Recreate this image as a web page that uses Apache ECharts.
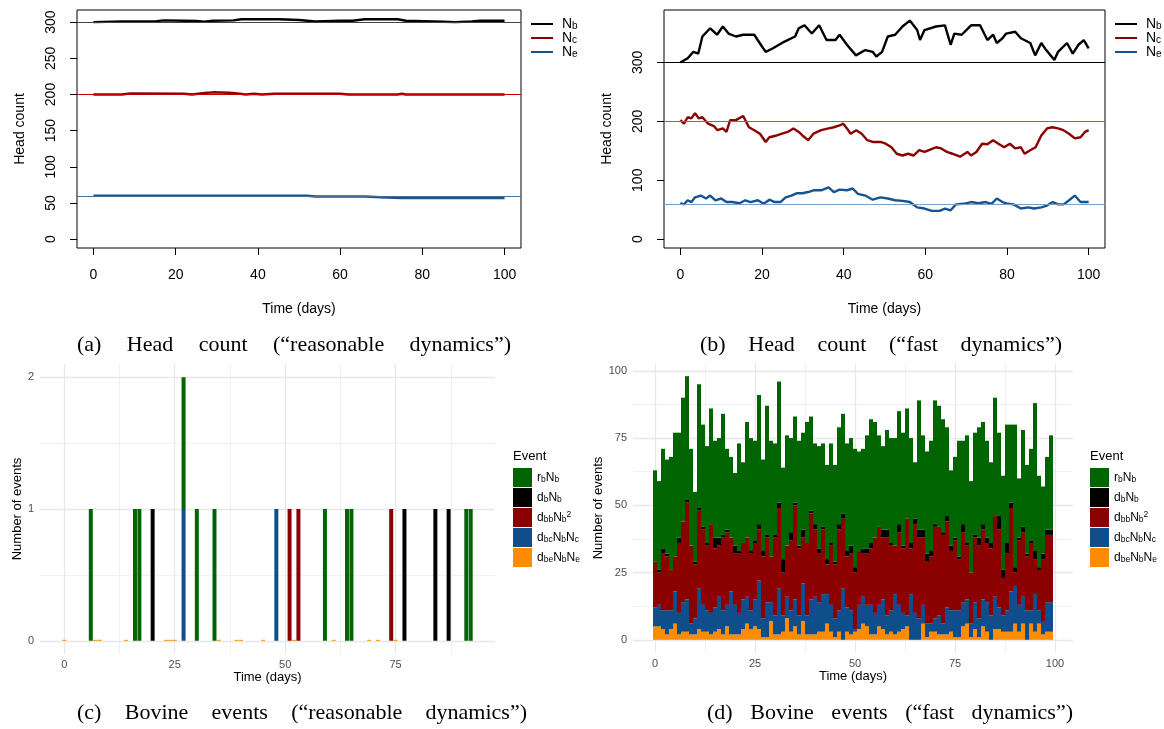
<!DOCTYPE html>
<html><head><meta charset="utf-8">
<script src="https://cdn.jsdelivr.net/npm/echarts@6/dist/echarts.min.js"></script>
<style>html,body{margin:0;padding:0;background:#fff}#chart{width:1164px;height:729px}</style>
</head><body><div id="chart"></div>
<script>
// ---------------- DATA ----------------
// (a) head count, "reasonable dynamics"
const aNbT = [0,7,15,17,22,25,27,29,34,36,45,50,54,60,63,66,74,76,85,88,92,94,100];
const aNbV = [300,301,301,302.5,302,301.5,300.5,302,302.5,304,304,303,301,302,302,304,304,302,300.5,300,301,302,302];
const aNcT = [0,7,9,22,24,27,29,33,35,37,39,41,44,60,62,74,75,76,100];
const aNcV = [200,200,201.5,201,200,202,203,202.5,201.5,200,201,200,201,201,200,200,201,200,200];
const aNeT = [0,52,54,66,70,75,100];
const aNeV = [60,60,59,59,58,57,57];
// (b) head count, "fast dynamics"
const bNbT = [0,1.8,3.2,4.4,5.4,7.3,9,10.4,11.8,13.6,15.4,18.1,20,20.9,22.7,25.4,28.1,29,30.4,32.2,34,35.8,38,39,40.8,43,45.3,47.1,48,49.4,50.8,52.6,54.4,56.2,58,58.7,59.8,62.6,64.8,66.2,67.1,68.9,71.2,73.4,75.2,76.6,77.5,78.9,79.8,82,83.4,85.7,86.9,88.4,89.6,91.6,92.5,94.7,96.1,97.5,98.8,100];
const bNbV = [300,307,318,315,344,358,347,361,349,344,347,347,327,318,324,335,344,358,363,349,363,338,338,347,330,312,321,318,310,318,344,347,361,371,355,338,355,361,363,330,349,347,363,363,338,347,333,341,349,352,341,333,312,333,321,304,318,333,315,330,338,324];
const bNcT = [0,0.9,1.8,2.7,3.6,4.5,5.4,6.8,8.2,9.1,10.4,11.3,12.2,13.6,15.4,16.8,18.1,19.5,20.9,21.8,23.6,24.9,26.3,27.7,29,29.9,31.3,32.6,34.5,36.3,37.6,39,39.9,40.8,41.7,43.1,44.4,45.8,47.1,49,50.3,51.7,53,54.4,55.8,57.1,58.5,59.8,61.2,62.6,63.9,65.3,66.6,68.5,70.3,71.2,72.5,73.9,75.2,76.6,77.9,79.3,80.7,82,83.4,84.3,85.7,87,88.4,89.8,91.1,92.5,93.8,95.2,96.6,98,99.1,100];
const bNcV = [202,196,207,205,214,205,207,196,192,185,188,182,202,202,209,190,185,179,165,173,176,179,182,188,182,176,168,179,185,188,190,193,196,188,179,185,179,168,165,165,162,156,145,142,145,142,151,148,152,156,154,148,145,140,148,142,148,162,161,168,162,156,162,154,156,145,151,156,176,188,190,188,185,179,171,173,182,185];
const bNeT = [0,0.9,1.8,2.7,3.6,5,6.3,7.3,8.6,10,11.3,12.7,14.5,15.9,17.2,19,20.4,21.8,23.1,24.5,25.8,27.2,28.6,29.9,31.3,32.6,34.5,36.3,37.6,39,40.8,42.2,43.5,45.3,47.1,49,50.8,52.6,54.4,56.2,58,59.8,61.6,63.5,64.8,66.2,67.5,69.4,71.2,73,74.8,76.2,77.5,78.9,80.2,81.6,83.4,85.2,86.6,88.4,89.8,91.2,92.5,93.9,95.2,96.6,98,100];
const bNeV = [61,59,66,63,71,74,69,74,66,69,63,63,61,66,63,66,60,67,63,63,71,74,78,78,80,83,83,88,80,84,83,86,77,74,67,71,69,66,65,63,54,52,48,48,52,49,59,60,63,61,63,60,69,63,60,59,52,54,52,54,57,63,59,59,66,74,63,63];
const refLines = [300, 200, 60];
// (c) bovine events, "reasonable dynamics": days with one event of each kind
const cRbDays = [6,16,17,27,30,34,59,64,65,91,92];
const cDbDays = [20,77,84,87];
const cDbbDays = [51,53,74];
const cDbcDays = [27,48];
const cDbeZeroDays = [0,7,8,14,23,24,25,35,39,40,45,52,61,69,71,75];
// (d) bovine events, "fast dynamics": counts per day 0..99
const dDbe = [5,5,4,2,4,6,2,3,3,2,2,4,3,3,2,3,4,2,5,2,2,2,4,6,4,5,4,1,1,7,2,2,3,8,3,5,2,7,2,2,2,3,3,6,3,1,3,0,3,2,3,4,6,5,2,2,5,4,2,3,2,3,4,5,0,0,0,6,1,3,3,2,2,2,3,1,1,5,6,1,4,1,5,3,0,4,4,3,3,3,6,3,6,0,6,3,6,2,3,3];
const dDbc = [7,8,7,9,7,12,8,11,12,4,6,15,10,8,8,9,12,9,8,16,11,8,11,10,7,10,18,7,13,7,7,17,6,8,8,10,7,14,7,13,14,11,14,11,10,7,8,19,9,9,1,9,10,8,11,8,8,11,7,8,15,10,6,4,17,10,8,7,5,3,5,7,4,10,8,10,10,9,9,5,10,7,10,11,9,12,8,6,8,15,14,10,10,11,5,14,5,5,11,11];
const dDbb = [17,12,21,20,15,13,26,30,36,29,20,29,28,24,33,22,19,27,27,20,19,22,21,22,21,21,19,23,24,17,29,30,16,19,26,35,25,17,27,32,25,18,24,11,22,20,30,26,19,21,21,20,16,19,21,28,29,23,29,24,18,27,24,36,17,33,30,25,23,25,34,33,33,32,22,26,19,26,20,19,24,27,26,22,25,30,29,14,21,31,5,24,24,20,25,13,15,23,25,25];
const dDb = [0,1,2,1,0,0,2,0,1,0,1,1,1,1,0,4,3,1,1,0,3,1,0,0,1,1,2,2,1,0,1,2,5,0,3,1,1,3,0,1,2,2,1,2,1,1,2,2,2,3,2,0,2,2,2,0,0,3,3,1,0,3,1,0,2,2,3,3,3,2,1,0,1,2,2,1,1,3,1,0,1,3,2,2,2,0,5,3,4,2,2,1,2,1,1,3,1,2,2,2];
const dRb = [34,33,37,35,42,46,39,46,46,36,26,46,38,36,43,36,37,45,30,30,27,40,30,43,42,37,48,34,48,43,34,45,34,41,35,32,39,36,45,35,30,38,31,35,37,36,36,37,40,40,44,37,37,42,46,43,34,31,37,39,40,42,42,41,39,21,48,35,38,41,46,45,42,33,28,30,43,31,40,34,38,41,38,36,30,44,31,35,44,29,53,22,36,33,34,55,34,25,27,35];
// tick labels
const headTicksX = [0,20,40,60,80,100];
const headTicksYa = [0,50,100,150,200,250,300];
const headTicksYb = [0,100,200,300];
const evTicksXc = [0,25,50,75];
const evTicksYc = [0,1,2];
const evTicksXd = [0,25,50,75,100];
const evTicksYd = [0,25,50,75,100];
const minorXc = [12.5,37.5,62.5,87.5];
const minorYc = [0.5,1.5];
const minorXd = [12.5,37.5,62.5,87.5];
const minorYd = [12.5,37.5,62.5,87.5];

// ---------------- STYLE ----------------
const SANS = '"Liberation Sans", Arial, sans-serif';
const SERIF = '"Liberation Serif", "Times New Roman", serif';
const C_GREEN = '#006400', C_BLACK = '#000000', C_RED = '#8B0000', C_BLUE = '#104E8B', C_ORANGE = '#FF8C00';
const L_BLUE = '#17538f';

const chart = echarts.init(document.getElementById('chart'), null, {renderer: 'canvas'});

const pairs = (t, v) => t.map((x, i) => [x, v[i]]);

function rXAxis(gi) {
  return {type:'value', gridIndex:gi, min:-4, max:104, position:'bottom',
    axisLine:{show:false, onZero:false}, splitLine:{show:false},
    axisTick:{show:true, inside:false, length:7, customValues:headTicksX, lineStyle:{color:'#000', width:1}},
    axisLabel:{customValues:headTicksX, fontSize:14, color:'#000', fontFamily:SANS, margin:20},
    name:'Time (days)', nameLocation:'middle', nameGap:54,
    nameTextStyle:{fontSize:14, color:'#000', fontFamily:SANS}};
}
function rYAxis(gi, min, max, ticks) {
  return {type:'value', gridIndex:gi, min:min, max:max, position:'left',
    axisLine:{show:false, onZero:false}, splitLine:{show:false},
    axisTick:{show:true, inside:false, length:7, customValues:ticks, lineStyle:{color:'#000', width:1}},
    axisLabel:{customValues:ticks, rotate:90, fontSize:14, color:'#000', fontFamily:SANS, margin:19},
    name:'Head count', nameLocation:'middle', nameGap:50, nameRotate:90,
    nameTextStyle:{fontSize:14, color:'#000', fontFamily:SANS}};
}
function gXAxis(gi, min, max, ticks) {
  return {type:'value', gridIndex:gi, min:min, max:max, position:'bottom',
    axisLine:{show:false, onZero:false}, splitLine:{show:false}, axisTick:{show:false},
    axisLabel:{customValues:ticks, fontSize:11, color:'#4D4D4D', fontFamily:SANS, margin:5},
    name:'Time (days)', nameLocation:'middle', nameGap:17,
    nameTextStyle:{fontSize:13, color:'#000', fontFamily:SANS}};
}
function catAxis(gi, cats) {
  return {type:'category', gridIndex:gi, data:cats, show:false, boundaryGap:true,
    axisLine:{show:false, onZero:false}, axisTick:{show:false}, axisLabel:{show:false}, splitLine:{show:false}};
}
function gYAxis(gi, min, max, ticks, gap) {
  return {type:'value', gridIndex:gi, min:min, max:max, position:'left',
    axisLine:{show:false, onZero:false}, splitLine:{show:false}, axisTick:{show:false},
    axisLabel:{customValues:ticks, fontSize:11, color:'#4D4D4D', fontFamily:SANS, margin:6},
    name:'Number of events', nameLocation:'middle', nameGap:gap, nameRotate:90,
    nameTextStyle:{fontSize:13, color:'#000', fontFamily:SANS}};
}
function lineSeries(name, gi, t, v, color, ref, refColor) {
  return {name:name, type:'line', xAxisIndex:gi, yAxisIndex:gi, data:pairs(t, v),
    showSymbol:false, symbol:'none', color:color, lineStyle:{color:color, width:2.4},
    markLine:{silent:true, symbol:'none', label:{show:false},
      lineStyle:{color:refColor, width:1.1, type:'solid'}, data:[{yAxis:ref}]}};
}
function gridSeries(gi, xMaj, xMin, yMaj, yMin) {
  const maj = {color:'#E8E8E8', width:1.3, type:'solid'};
  const mnr = {color:'#F1F1F1', width:1, type:'solid'};
  const data = [];
  xMin.forEach(v => data.push({xAxis:v, lineStyle:mnr}));
  yMin.forEach(v => data.push({yAxis:v, lineStyle:mnr}));
  xMaj.forEach(v => data.push({xAxis:v, lineStyle:maj}));
  yMaj.forEach(v => data.push({yAxis:v, lineStyle:maj}));
  return {type:'line', xAxisIndex:gi, yAxisIndex:gi, data:[], z:1,
    markLine:{silent:true, symbol:'none', z:1, label:{show:false}, animation:false, data:data}};
}
// category bands for bars: one band per day, spanning the same range as the value axes
const catsC = Array.from({length:103}, (_, i) => i - 5);   // -5 .. 97
const catsD = Array.from({length:110}, (_, i) => i - 5);   // -5 .. 104
const countOn = list => catsC.map(d => (d >= 0 && d <= 92) ? list.filter(x => x === d).length : null);
const onDays = arr => catsD.map(d => (d >= 0 && d < arr.length) ? arr[d] : null);
function barSeries(name, xi, yi, data, color, width, extra) {
  return Object.assign({name:name, type:'bar', xAxisIndex:xi, yAxisIndex:yi, stack:'s'+yi,
    barWidth:width, data:data, color:color, itemStyle:{color:color, borderWidth:0}, z:6}, extra || {});
}

// legend label rich text
const richR = {
  p:{width:4, fontSize:14, lineHeight:14},
  m:{fontSize:14, fontFamily:SANS, color:'#000', lineHeight:14},
  s:{fontSize:10, fontFamily:SANS, color:'#000', lineHeight:8, verticalAlign:'bottom'}
};
const richG = {
  m:{fontSize:12, fontFamily:SANS, color:'#000', lineHeight:14},
  s:{fontSize:8.5, fontFamily:SANS, color:'#000', lineHeight:8, verticalAlign:'bottom'},
  sup:{fontSize:8.5, fontFamily:SANS, color:'#000', lineHeight:8, verticalAlign:'top'}
};
const labelMap = {
  Nb:'{p|}{m|N}{s|b}', Nc:'{p|}{m|N}{s|c}', Ne:'{p|}{m|N}{s|e}',
  rb:'{m|r}{s|b}{m|N}{s|b}', db:'{m|d}{s|b}{m|N}{s|b}', dbb:'{m|d}{s|bb}{m|N}{s|b}{sup|2}',
  dbc:'{m|d}{s|bc}{m|N}{s|b}{m|N}{s|c}', dbe:'{m|d}{s|be}{m|N}{s|b}{m|N}{s|e}'
};
const fmt = name => labelMap[name.split('_')[1]];

function rLegend(prefix, left) {
  return {data:[prefix+'_Nb', prefix+'_Nc', prefix+'_Ne'], left:left, top:17, orient:'vertical', padding:0,
    icon:'rect', itemWidth:22, itemHeight:2, itemGap:0, selectedMode:false, formatter:fmt,
    textStyle:{rich:richR}};
}
function gLegend(prefix, left) {
  return {data:[prefix+'_rb', prefix+'_db', prefix+'_dbb', prefix+'_dbc', prefix+'_dbe'], left:left, top:468,
    orient:'vertical', padding:0, icon:'rect', itemWidth:19, itemHeight:19, itemGap:1, selectedMode:false,
    formatter:fmt, textStyle:{rich:richG}};
}

// captions, justified between measured bounds
const capCtx = document.createElement('canvas').getContext('2d');
const CAP_FONT = '22px ' + SERIF;
capCtx.font = CAP_FONT;
function caption(words, x0, x1, y) {
  const w = words.map(s => capCtx.measureText(s).width);
  const tot = w.reduce((a, b) => a + b, 0);
  const gap = (x1 - x0 - tot) / (words.length - 1);
  let x = x0;
  return words.map((s, i) => {
    const el = {type:'text', x:x, y:y, silent:true,
      style:{text:s, font:CAP_FONT, fill:'#000', align:'left', verticalAlign:'middle', textAlign:'left', textVerticalAlign:'middle'}};
    x += w[i] + gap;
    return el;
  });
}
const evStyle = {text:'Event', font:'13px '+SANS, fill:'#000', align:'left', verticalAlign:'middle', textAlign:'left', textVerticalAlign:'middle'};
const graphics = [].concat(
  caption(['(a)','Head','count','(\u201creasonable','dynamics\u201d)'], 77, 511, 345),
  caption(['(b)','Head','count','(\u201cfast','dynamics\u201d)'], 700, 1062, 345),
  caption(['(c)','Bovine','events','(\u201creasonable','dynamics\u201d)'], 77, 527, 713),
  caption(['(d)','Bovine','events','(\u201cfast','dynamics\u201d)'], 707, 1073, 713),
  [{type:'text', x:513, y:456, silent:true, style:evStyle},
   {type:'text', x:1090, y:456, silent:true, style:Object.assign({}, evStyle)}]
);

const option = {
  animation:false,
  backgroundColor:'#fff',
  grid:[
    {left:77, top:10, width:444, height:238, show:true, borderColor:'#000', borderWidth:1, backgroundColor:'transparent', containLabel:false, outerBoundsMode:'none'},
    {left:664, top:10, width:441, height:238, show:true, borderColor:'#000', borderWidth:1, backgroundColor:'transparent', containLabel:false, outerBoundsMode:'none'},
    {left:40, top:364, width:455, height:290, show:false, containLabel:false, outerBoundsMode:'none'},
    {left:633, top:363, width:440, height:290, show:false, containLabel:false, outerBoundsMode:'none'}
  ],
  xAxis:[rXAxis(0), rXAxis(1), gXAxis(2, -5.5, 97.5, evTicksXc), gXAxis(3, -5.5, 104.5, evTicksXd),
         catAxis(2, catsC), catAxis(3, catsD)],
  yAxis:[rYAxis(0, -12.2, 316.8, headTicksYa), rYAxis(1, -15, 389, headTicksYb),
         gYAxis(2, -0.1, 2.1, evTicksYc, 15), gYAxis(3, -4.9, 102.9, evTicksYd, 26)],
  legend:[rLegend('a', 531), rLegend('b', 1115), gLegend('c', 513), gLegend('d', 1090)],
  graphic:graphics,
  series:[
    lineSeries('a_Nb', 0, aNbT, aNbV, '#000', refLines[0], '#444'),
    lineSeries('a_Nc', 0, aNcT, aNcV, C_RED, refLines[1], '#c00000'),
    lineSeries('a_Ne', 0, aNeT, aNeV, L_BLUE, refLines[2], '#47709a'),
    lineSeries('b_Nb', 1, bNbT, bNbV, '#000', refLines[0], '#000'),
    lineSeries('b_Nc', 1, bNcT, bNcV, C_RED, refLines[1], '#b65555'),
    lineSeries('b_Ne', 1, bNeT, bNeV, L_BLUE, refLines[2], '#7aa0c8'),
    gridSeries(2, evTicksXc, minorXc, evTicksYc, minorYc),
    gridSeries(3, evTicksXd, minorXd, evTicksYd, minorYd),
    barSeries('c_dbe', 4, 2, catsC.map(d => cDbeZeroDays.includes(d) ? 0 : null), C_ORANGE, '90%', {barMinHeight:1}),
    barSeries('c_dbc', 4, 2, countOn(cDbcDays), C_BLUE, '90%'),
    barSeries('c_dbb', 4, 2, countOn(cDbbDays), C_RED, '90%'),
    barSeries('c_db', 4, 2, countOn(cDbDays), C_BLACK, '90%'),
    barSeries('c_rb', 4, 2, countOn(cRbDays), C_GREEN, '90%'),
    barSeries('d_dbe', 5, 3, onDays(dDbe), C_ORANGE, '100%'),
    barSeries('d_dbc', 5, 3, onDays(dDbc), C_BLUE, '100%'),
    barSeries('d_dbb', 5, 3, onDays(dDbb), C_RED, '100%'),
    barSeries('d_db', 5, 3, onDays(dDb), C_BLACK, '100%'),
    barSeries('d_rb', 5, 3, onDays(dRb), C_GREEN, '100%')
  ]
};
chart.setOption(option);
</script></body></html>
